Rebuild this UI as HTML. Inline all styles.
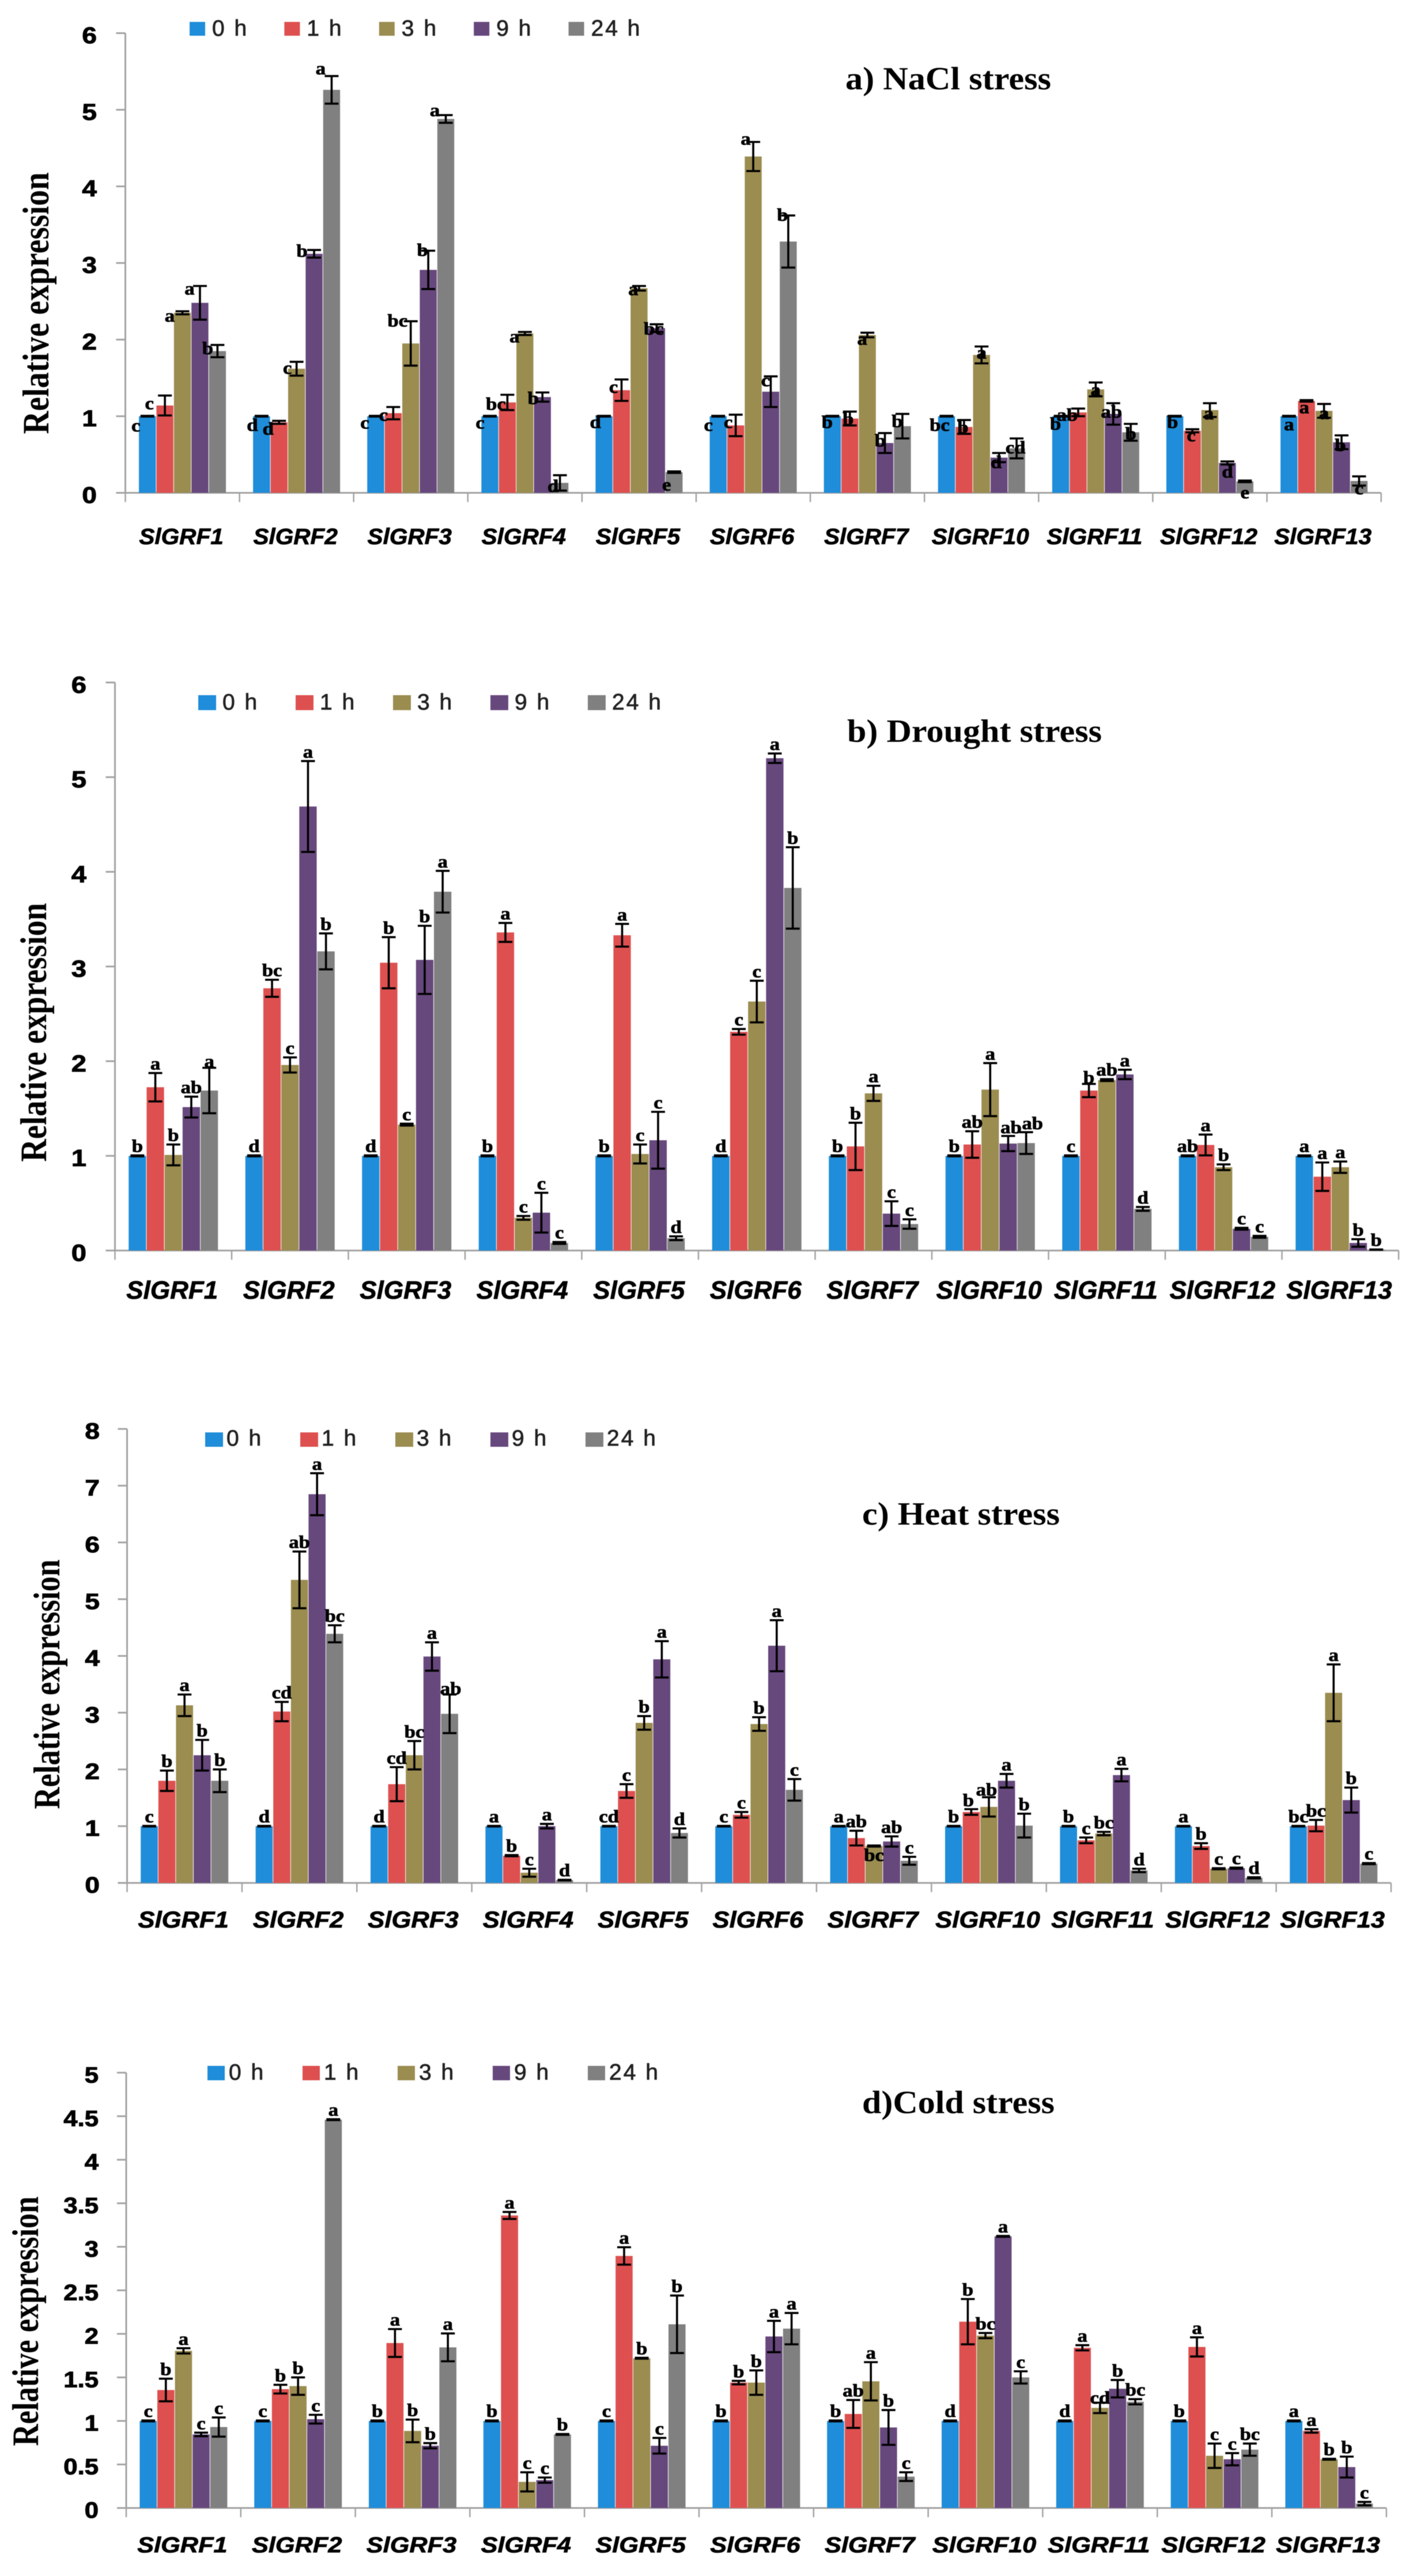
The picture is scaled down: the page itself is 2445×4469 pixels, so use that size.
<!DOCTYPE html>
<html>
<head>
<meta charset="utf-8">
<title>SlGRF relative expression under abiotic stress</title>
<style>
html,body{margin:0;padding:0;background:#fff;}
#figure{display:block;width:2445px;height:4469px;filter:blur(0.6px);}
</style>
</head>
<body>
<svg id="figure" xmlns="http://www.w3.org/2000/svg" width="2445" height="4469" viewBox="0 0 2445 4469"></svg>
<script>
const genes = ['SlGRF1','SlGRF2','SlGRF3','SlGRF4','SlGRF5','SlGRF6','SlGRF7','SlGRF10','SlGRF11','SlGRF12','SlGRF13'];
const timepoints = ['0 h','1 h','3 h','9 h','24 h'];
const seriesColors = ['#1f8dd9','#de5050','#9b8c50','#67487d','#808080'];

const naclTicks = [0,1,2,3,4,5,6];
const naclValues = [
  [1,1.14,2.35,2.48,1.85],[1,0.92,1.62,3.12,5.26],[1,1.04,1.95,2.91,4.88],[1,1.18,2.08,1.25,0.13],
  [1,1.34,2.67,2.15,0.27],[1,0.88,4.39,1.32,3.28],[1,0.97,2.06,0.65,0.87],[1,0.86,1.80,0.46,0.58],
  [1,1.05,1.35,1.03,0.79],[1,0.81,1.08,0.39,0.15],[1,1.20,1.07,0.66,0.155]];
const naclErrors = [
  [0.005,0.13,0.02,0.22,0.08],[0.005,0.02,0.09,0.05,0.18],[0.005,0.08,0.29,0.25,0.05],[0.005,0.10,0.02,0.06,0.10],
  [0.005,0.14,0.03,0.05,0.01],[0.005,0.14,0.19,0.20,0.34],[0.005,0.09,0.03,0.13,0.16],[0.005,0.09,0.11,0.06,0.13],
  [0.005,0.05,0.09,0.14,0.11],[0.005,0.02,0.09,0.02,0.01],[0.005,0.01,0.09,0.09,0.06]];
const naclLetters = [
  ['c','c','a','a','b'],['d','d','c','b','a'],['c','c','bc','b','a'],['c','bc','a','b','d'],
  ['d','c','a','bc','e'],['c','c','a','c','b'],['b','b','a','b','b'],['bc','b','a','d','cd'],
  ['b','ab','a','ab','b'],['b','c','a','d','e'],['a','a','a','b','c']];
const naclLetterShift = [
  [[-20,18],[-27,15],[-22,9],[-18,6],[-17,7]],
  [[-16,17],[-19,15],[-16,12],[-21,3],[-19,-12]],
  [[-19,13],[-17,15],[-23,0],[-10,0],[-19,-7]],
  [[-17,13],[-20,17],[-18,9],[-16,11],[-12,20]],
  [[-15,12],[-14,14],[-10,7],[-5,9],[-13,24]],
  [[-17,17],[-13,14],[-13,-4],[-9,8],[-10,0]],
  [[-9,12],[-3,14],[-9,12],[-8,14],[-9,14]],
  [[-12,17],[-2,14],[0,12],[-5,17],[-2,17]],
  [[-9,15],[-19,12],[0,14],[-3,16],[0,18]],
  [[-4,12],[-2,12],[-2,19],[0,19],[0,22]],
  [[0,16],[-4,14],[0,17],[-2,18],[0,22]]];

const droughtTicks = [0,1,2,3,4,5,6];
const droughtValues = [
  [1,1.725,1.01,1.515,1.69],[1,2.77,1.96,4.69,3.16],[1,3.04,1.33,3.07,3.79],[1,3.36,0.345,0.40,0.08],
  [1,3.33,1.02,1.165,0.13],[1,2.31,2.63,5.20,3.83],[1,1.10,1.66,0.39,0.28],[1,1.12,1.70,1.13,1.135],
  [1,1.69,1.80,1.86,0.44],[1,1.115,0.88,0.23,0.145],[1,0.78,0.88,0.08,0.01]];
const droughtErrors = [
  [0.005,0.15,0.11,0.11,0.24],[0.005,0.09,0.08,0.48,0.19],[0.005,0.27,0.01,0.36,0.22],[0.005,0.10,0.02,0.21,0.01],
  [0.005,0.12,0.10,0.30,0.02],[0.005,0.03,0.22,0.05,0.43],[0.005,0.25,0.08,0.13,0.05],[0.005,0.14,0.28,0.08,0.115],
  [0.005,0.07,0.01,0.05,0.02],[0.005,0.11,0.03,0.01,0.01],[0.005,0.15,0.06,0.04,0.001]];
const droughtLetters = [
  ['b','a','b','ab','a'],['d','bc','c','a','b'],['d','b','c','b','a'],['b','a','c','c','c'],
  ['b','a','c','c','d'],['d','c','c','a','b'],['b','b','a','c','c'],['b','ab','a','ab','ab'],
  ['c','b','ab','a','d'],['ab','a','b','c','c'],['a','a','a','b','b']];

const heatTicks = [0,1,2,3,4,5,6,7,8];
const heatValues = [
  [1,1.80,3.13,2.25,1.80],[1,3.02,5.34,6.85,4.39],[1,1.74,2.25,3.99,2.98],[1,0.48,0.18,1.00,0.05],
  [1,1.62,2.82,3.94,0.88],[1,1.20,2.80,4.18,1.64],[1,0.79,0.65,0.73,0.39],[1,1.25,1.34,1.80,1.01],
  [1,0.75,0.87,1.90,0.22],[1,0.65,0.25,0.26,0.09],[1,1.01,3.35,1.46,0.34]];
const heatErrors = [
  [0.005,0.18,0.19,0.27,0.20],[0.005,0.17,0.50,0.37,0.15],[0.005,0.30,0.25,0.25,0.34],[0.005,0.01,0.07,0.04,0.005],
  [0.005,0.12,0.12,0.32,0.08],[0.005,0.05,0.12,0.45,0.19],[0.005,0.13,0.01,0.09,0.07],[0.005,0.05,0.17,0.12,0.21],
  [0.005,0.05,0.03,0.11,0.03],[0.005,0.05,0.01,0.01,0.01],[0.005,0.10,0.50,0.22,0.01]];
const heatLetters = [
  ['c','b','a','b','b'],['d','cd','ab','a','bc'],['d','cd','bc','a','ab'],['a','b','c','a','d'],
  ['cd','c','b','a','d'],['c','c','b','a','c'],['a','ab','bc','ab','c'],['b','b','ab','a','b'],
  ['b','c','bc','a','d'],['a','b','c','c','d'],['bc','bc','a','b','c']];

const coldTicks = [0,0.5,1,1.5,2,2.5,3,3.5,4,4.5,5];
const coldValues = [
  [1,1.355,1.805,0.845,0.93],[1,1.365,1.40,1.02,4.46],[1,1.895,0.885,0.715,1.845],[1,3.36,0.30,0.32,0.845],
  [1,2.895,1.72,0.715,2.11],[1,1.44,1.44,1.97,2.06],[1,1.08,1.455,0.925,0.36],[1,2.14,1.98,3.12,1.50],
  [1,1.84,1.15,1.37,1.22],[1,1.85,0.60,0.56,0.67],[1,0.885,0.56,0.47,0.05]];
const coldErrors = [
  [0.005,0.13,0.03,0.02,0.11],[0.005,0.05,0.10,0.05,0.005],[0.005,0.16,0.13,0.03,0.16],[0.005,0.04,0.11,0.03,0.005],
  [0.005,0.10,0.005,0.09,0.33],[0.005,0.02,0.14,0.18,0.18],[0.005,0.16,0.22,0.20,0.05],[0.005,0.26,0.03,0.005,0.07],
  [0.005,0.03,0.06,0.10,0.03],[0.005,0.11,0.14,0.07,0.07],[0.005,0.02,0.005,0.12,0.02]];
const coldLetters = [
  ['c','b','a','c','c'],['c','b','b','c','a'],['b','a','b','b','a'],['b','a','c','c','b'],
  ['c','a','b','c','b'],['b','b','b','a','a'],['b','ab','a','b','c'],['d','b','bc','a','c'],
  ['d','a','cd','b','bc'],['b','a','c','c','bc'],['a','a','b','b','c']];

const panels = [
  {id:'nacl', values:naclValues, errors:naclErrors, letters:naclLetters, ticks:naclTicks, shift:naclLetterShift, nudges:{},
   x0:217.5, catW:198.1, barW:30.4, yZero:855, yTop:57.5,
   tickRight:168, tickSize:40, tickSx:1.15,
   catBase:944, catSize:39, catSx:1.04,
   title:'a) NaCl stress', titleX:1467, titleBase:155, titleLen:357,
   yTitleX:84, yTitleY:526, yTitleLen:454,
   legX:329, legW:27, legTop:38, legH:24, legStep:164.4, legOff:39, legBase:62},
  {id:'drought', values:droughtValues, errors:droughtErrors, letters:droughtLetters, ticks:droughtTicks, shift:null, nudges:{'7,3':[5,-14],'7,4':[11,-14],'8,1':[0,-10],'0,4':[0,-10]},
   x0:199.5, catW:202.5, barW:31.2, yZero:2169.5, yTop:1184,
   tickRight:150, tickSize:41, tickSx:1.15,
   catBase:2253, catSize:44, catSx:1,
   title:'b) Drought stress', titleX:1470, titleBase:1287, titleLen:442,
   yTitleX:80, yTitleY:1791, yTitleLen:449,
   legX:344, legW:31, legTop:1206, legH:26, legStep:169, legOff:42, legBase:1231},
  {id:'heat', values:heatValues, errors:heatErrors, letters:heatLetters, ticks:heatTicks, shift:null, nudges:{'6,2':[0,18],'2,4':[2,-9],'7,1':[-5,-14],'7,2':[-4,-12]},
   x0:220.5, catW:199.4, barW:30.6, yZero:3266.6, yTop:2479,
   tickRight:173, tickSize:39, tickSx:1.18,
   catBase:3344, catSize:40, catSx:1.09,
   title:'c) Heat stress', titleX:1496, titleBase:2645, titleLen:343,
   yTitleX:103, yTitleY:2922, yTitleLen:433,
   legX:356, legW:31, legTop:2485, legH:25, legStep:165, legOff:37, legBase:2508},
  {id:'cold', values:coldValues, errors:coldErrors, letters:coldLetters, ticks:coldTicks, shift:null, nudges:{'8,2':[0,-7],'1,2':[0,-15]},
   x0:219, catW:198.8, barW:30.6, yZero:4351, yTop:3595.8,
   tickRight:171, tickSize:39, tickSx:1.12,
   catBase:4428, catSize:38, catSx:1.14,
   title:'d)Cold stress', titleX:1496, titleBase:3666, titleLen:334,
   yTitleX:66, yTitleY:4027, yTitleLen:433,
   legX:360, legW:30, legTop:3584, legH:25, legStep:165, legOff:37, legBase:3608}
];

const svg = document.getElementById('figure');
const NS = 'http://www.w3.org/2000/svg';
function make(tag, parent){
  const el = document.createElementNS(NS, tag);
  parent.appendChild(el);
  return el;
}
function put(el, props){
  for (const k in props) el.setAttribute(k, props[k]);
}

panels.forEach(function(p){
  const maxTick = p.ticks[p.ticks.length-1];
  const yScale = function(v){ return p.yZero - (v/maxTick)*(p.yZero - p.yTop); };
  const catX = function(i){ return p.x0 + p.catW*i; };
  const barX = function(i,j){ return catX(i) + (p.catW - 5*p.barW)/2 + p.barW*j; };

  const g = make('g', svg);
  
  

  // y axis line
  const yAxis = make('line', g);
  
  
  put(yAxis, {x1:p.x0, x2:p.x0, y1:yScale(maxTick), y2:p.yZero, stroke:'#a3a3a3', 'stroke-width':3});

  // y ticks + labels
  p.ticks.forEach(function(t){
    const tick = make('line', g);
    
    
    put(tick, {x1:p.x0-16, x2:p.x0, y1:yScale(t), y2:yScale(t), stroke:'#a3a3a3', 'stroke-width':3});
    const lab = make('text', g);
    
    
    put(lab, {'text-anchor':'end', transform:'translate('+p.tickRight+','+(yScale(t)+p.tickSize*0.36+3)+') scale('+p.tickSx+',1)',
      'font-family':'"Liberation Sans", sans-serif', 'font-weight':'bold', 'font-size':p.tickSize, fill:'#000', stroke:'#000', 'stroke-width':1});
    lab.textContent = String(t);
  });

  // x axis line
  const xAxis = make('line', g);
  
  
  put(xAxis, {x1:p.x0-16, x2:catX(genes.length), y1:p.yZero, y2:p.yZero, stroke:'#a3a3a3', 'stroke-width':3});

  // x ticks
  for (let i = 0; i <= genes.length; i++){
    const xt = make('line', g);
    
    
    put(xt, {x1:catX(i), x2:catX(i), y1:p.yZero, y2:p.yZero+16, stroke:'#a3a3a3', 'stroke-width':2.5});
  }

  // bars
  genes.forEach(function(gene,i){
    timepoints.forEach(function(tp,j){
      const v = p.values[i][j];
      const bar = make('rect', g);
      
      
      put(bar, {x:barX(i,j)+0.5, width:p.barW-1, y:yScale(v), height:p.yZero-yScale(v), fill:seriesColors[j]});
    });
  });

  // error bars + significance letters
  genes.forEach(function(gene,i){
    timepoints.forEach(function(tp,j){
      const v = p.values[i][j];
      const e = p.errors[i][j];
      const cx = barX(i,j) + p.barW/2;
      const top = yScale(v+e);
      const bot = yScale(Math.max(0,v-e));
      const err = make('path', g);
      
      
      put(err, {d:'M'+(cx-12)+' '+top+'H'+(cx+12)+'M'+cx+' '+top+'V'+bot+'M'+(cx-12)+' '+bot+'H'+(cx+12),
        fill:'none', stroke:'#000', 'stroke-width':3.6});

      let dx = 0, dy = -15;
      if (p.shift){ dx = p.shift[i][j][0]; dy = p.shift[i][j][1]; }
      const key = i + ',' + j;
      if (p.nudges[key]){ dx = p.nudges[key][0]; dy = p.nudges[key][1]; }
      const letter = make('text', g);
      
      
      put(letter, {'text-anchor':'middle', transform:'translate('+(cx+dx)+','+(top+dy+9)+') scale(1.12,1)',
        'font-family':'"Liberation Serif", serif', 'font-weight':'bold', 'font-size':31, fill:'#000', stroke:'#000', 'stroke-width':0.8});
      letter.textContent = p.letters[i][j];
    });
  });

  // category labels
  genes.forEach(function(gene,i){
    const cat = make('text', g);
    
    
    put(cat, {'text-anchor':'middle', transform:'translate('+(catX(i)+p.catW/2-2)+','+p.catBase+') scale('+p.catSx+',1)',
      'font-family':'"Liberation Sans", sans-serif', 'font-weight':'bold', 'font-style':'italic', 'font-size':p.catSize, fill:'#000', stroke:'#000', 'stroke-width':0.8});
    cat.textContent = gene;
  });

  // legend
  timepoints.forEach(function(tp,j){
    const sw = make('rect', g);
    
    
    put(sw, {x:p.legX+p.legStep*j, y:p.legTop, width:p.legW, height:p.legH, fill:seriesColors[j]});
    const lt = make('text', g);
    
    
    put(lt, {x:p.legX+p.legStep*j+p.legOff, y:p.legBase, 'font-family':'"Liberation Sans", sans-serif', 'font-size':39,
      'letter-spacing':3, fill:'#222', stroke:'#222', 'stroke-width':0.8});
    lt.textContent = tp;
  });

  // panel title
  const title = make('text', g);
  
  
  put(title, {x:p.titleX, y:p.titleBase, textLength:p.titleLen, lengthAdjust:'spacingAndGlyphs',
    'font-family':'"Liberation Serif", serif', 'font-weight':'bold', 'font-size':56, fill:'#000'});
  title.textContent = p.title;

  // y axis title
  const yTitle = make('text', g);
  
  
  put(yTitle, {'text-anchor':'middle', transform:'translate('+p.yTitleX+','+p.yTitleY+') rotate(-90)',
    textLength:p.yTitleLen, lengthAdjust:'spacingAndGlyphs',
    'font-family':'"Liberation Serif", serif', 'font-weight':'bold', 'font-size':65, fill:'#000'});
  yTitle.textContent = 'Relative expression';
});
</script>
</body>
</html>
